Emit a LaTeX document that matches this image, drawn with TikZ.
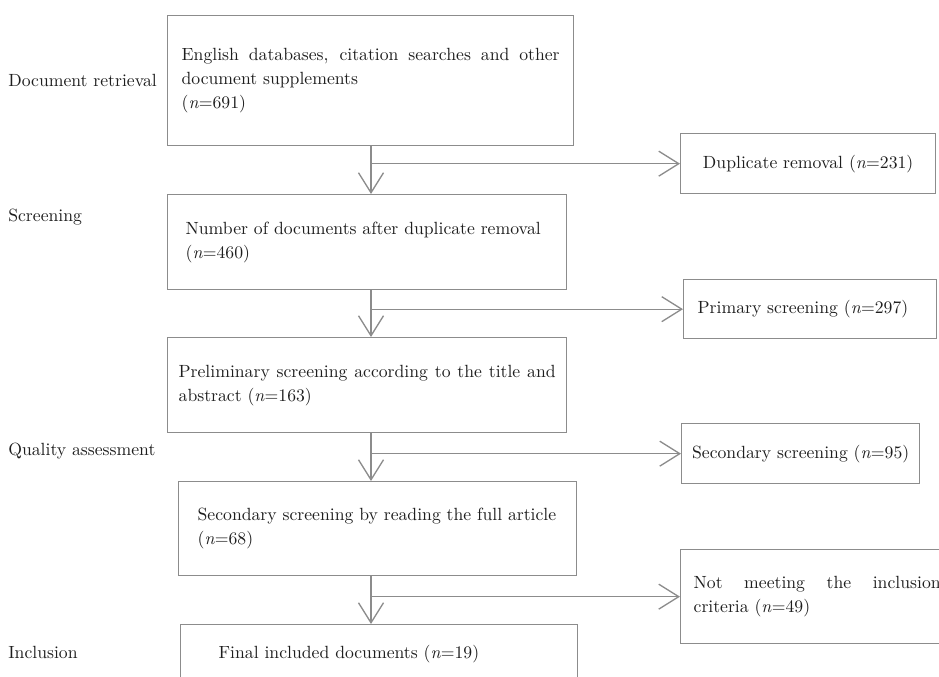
\documentclass[tikz,border=0pt]{standalone}
\usepackage{tikz}
\usetikzlibrary{arrows.meta, positioning, calc}
\definecolor{sline}{HTML}{8C8C8C}
\definecolor{sink}{HTML}{1E1E1E}
\newcommand{\ncnt}[1]{(\textit{n}=#1)}
\tikzset{
  x=0.6pt, y=-0.6pt,
  font=\fontsize{10.6}{14.4}\selectfont,
  stagebox/.style={
    draw=sline, line width=0.8pt, anchor=north west, text=sink,
    inner ysep=0pt
  },
  sidebox/.style={
    draw=sline, line width=0.8pt, anchor=north west, text=sink,
    align=center, inner ysep=0pt
  },
  phase/.style={anchor=west, text=sink, inner sep=0pt},
  flow/.style={draw=sline, line width=0.8pt, -{Straight Barb[length=12pt,width=15pt]}}
}
\begin{document}
\begin{tikzpicture}
  \useasboundingbox (0,0) rectangle (939,676);
  \coordinate (spine) at (371,0);
  % phases
  \node[phase] (lret) at (8,80) {Document retrieval};
  \node[phase] (lscr) at (8,217) {Screening};
  \node[phase] (lqual) at (8,451) {Quality assessment};
  \node[phase] (lincl) at (8,652) {Inclusion};
  % main column
  \node[stagebox,minimum width=243.6pt,minimum height=78pt,inner xsep=8.4pt,
    text width=226.8pt,align=justify] (ret) at (167,15)
    {English databases, citation searches and other\linebreak document supplements\\\ncnt{691}};
  \node[stagebox,minimum width=239.4pt,minimum height=57pt,inner xsep=10.8pt,
    text width=217.8pt,align=left] (nodup) at (167,194)
    {Number of documents after duplicate removal\\\ncnt{460}};
  \node[stagebox,minimum width=239.4pt,minimum height=57pt,inner xsep=6.6pt,
    text width=226.2pt,align=justify] (prelim) at (167,337)
    {Preliminary screening according to the title and\linebreak abstract \ncnt{163}};
  \node[stagebox,minimum width=238.8pt,minimum height=56.4pt,inner xsep=11.4pt,
    text width=216pt,align=left] (full) at (178,481)
    {Secondary screening by reading the full article\\\ncnt{68}};
  \node[stagebox,minimum width=238.2pt,minimum height=34.8pt,inner xsep=22.8pt,
    text width=192.6pt,align=left] (final) at (180,624)
    {Final included documents \ncnt{19}};
  % excluded
  \node[sidebox,minimum width=153pt,minimum height=36pt] (dup) at (680,133)
    {Duplicate removal \ncnt{231}};
  \node[sidebox,minimum width=151.8pt,minimum height=35.4pt,inner xsep=8.4pt,
    text width=135pt,align=left] (prim) at (683,279)
    {Primary screening \ncnt{297}};
  \node[sidebox,minimum width=142.8pt,minimum height=36pt] (second) at (681,423)
    {Secondary screening \ncnt{95}};
  \node[sidebox,minimum width=163.8pt,minimum height=56.4pt,inner xsep=7.8pt,
    text width=148.2pt,align=justify] (notmeet) at (680,549)
    {Not meeting the inclusion\linebreak criteria \ncnt{49}};
  % arrows
  \draw[flow] (spine |- ret.south) -- (spine |- nodup.north);
  \draw[flow] (spine |- nodup.south) -- (spine |- prelim.north);
  \draw[flow] (spine |- prelim.south) -- (spine |- full.north);
  \draw[flow] (spine |- full.south) -- (spine |- final.north);
  \draw[flow] (spine |- dup.west) -- (dup.west);
  \draw[flow] (spine |- prim.west) -- (prim.west);
  \draw[flow] (spine |- second.west) -- (second.west);
  \draw[flow] (spine |- notmeet.west) -- (notmeet.west);
\end{tikzpicture}
\end{document}
